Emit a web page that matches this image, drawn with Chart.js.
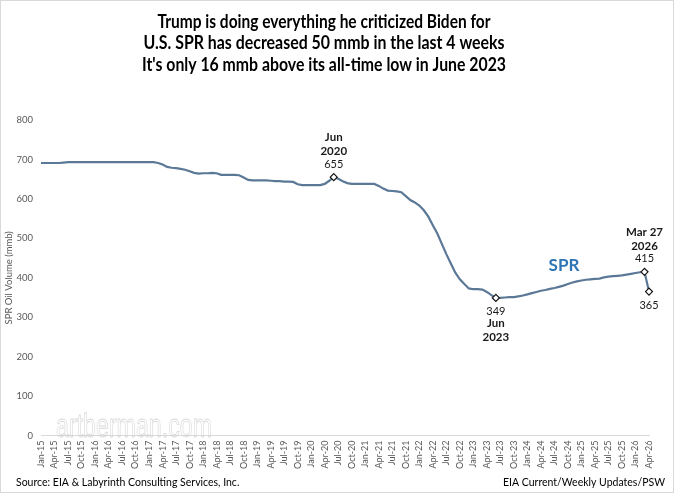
<!DOCTYPE html>
<html>
<head>
<meta charset="utf-8">
<script src="https://cdn.jsdelivr.net/npm/chart.js@4"></script>
<style>
    html, body { margin: 0; padding: 0; background: #fff; }
    #wrap { position: relative; width: 674px; height: 493px; box-sizing: border-box; border: 1px solid #d9d9d9; }
    canvas { position: absolute; left: 0; top: 0; }
</style>
</head>
<body>
<div id="wrap"><canvas id="sprChart" width="674" height="493"></canvas></div>
<script>
// == SPR volume, monthly, mmb == //
const months = ["Jan", "Feb", "Mar", "Apr", "May", "Jun", "Jul", "Aug", "Sep", "Oct", "Nov", "Dec"];
const years = ["15", "16", "17", "18", "19", "20", "21", "22", "23", "24", "25", "26"];

const sprValues = [
    691, 691, 691, 691, 691, 692, 693, 693, 693, 693, 693, 693, // 2015
    693, 693, 693, 693, 693, 693, 693, 693, 693, 693, 693, 693, // 2016
    693, 693, 691, 687, 681, 679, 678, 676, 674, 670, 666, 664, // 2017
    665, 665, 666, 665, 661, 661, 661, 661, 660, 654, 648, 647, // 2018
    647, 647, 647, 646, 645, 645, 644, 644, 643, 637, 635, 635, // 2019
    635, 635, 635, 638, 646, 655, 651, 645, 640, 638, 638, 638, // 2020
    638, 638, 638, 633, 626, 621, 620, 619, 617, 607, 597, 591, // 2021
    583, 571, 555, 533, 512, 486, 460, 436, 413, 396, 384, 373, // 2022
    371, 371, 370, 364, 356, 349, 349, 350, 351, 351, 353, 355, // 2023
    358, 361, 364, 367, 369, 372, 374, 377, 380, 384, 388, 391, // 2024
    393, 395, 396, 397, 398, 401, 403, 404, 405, 406, 408, 410, // 2025
    412, 414, 415, 365                                          // 2026
];

// month categories "Jan-15" ... one per value
const categories = [];
years.forEach(y => months.forEach(m => categories.push(m + "-" + y)));
categories.length = sprValues.length;

// annotated points
const calloutIdx = [65, 101, 134, 135];
const calloutDate = [["Jun", "2020"], ["Jun", "2023"], ["Mar 27", "2026"], []];
const calloutBelow = [false, true, false, true];

const titleLines = [
    "Trump is doing everything he criticized Biden for",
    "U.S. SPR has decreased 50 mmb in the last 4 weeks",
    "It's only 16 mmb above its all-time low in June 2023"
];
const titleWidths = [333, 361, 364];

const FONT = "Lato, 'Open Sans', sans-serif";

// 🔹 marker radius only on callout points
const pointRadius = sprValues.map((v, i) => calloutIdx.includes(i) ? 3.5 : 0);

const extras = {
    id: "extras",
    beforeDatasetsDraw(chart) {
        const c = chart.ctx;
        // watermark
        c.save();
        c.font = "34px 'Liberation Sans', sans-serif";
        const txt = "artberman.com";
        const w = c.measureText(txt).width;
        c.translate(55, 436);
        c.scale(156 / w, 1);
        c.strokeStyle = "rgba(200,200,200,0.7)";
        c.lineWidth = 0.8;
        c.strokeText(txt, 0, 0);
        c.restore();
    },
    afterDatasetsDraw(chart) {
        const c = chart.ctx;
        const meta = chart.getDatasetMeta(0);
        c.save();
        c.textAlign = "center";
        c.textBaseline = "middle";
        calloutIdx.forEach((idx, k) => {
            const p = meta.data[idx];
            const d = calloutDate[k];
            c.fillStyle = "#1a1a1a";
            if (calloutBelow[k]) {
                c.font = "11px " + FONT;
                c.fillText(sprValues[idx], p.x, p.y + 14);
                c.font = "bold 11.5px " + FONT;
                if (d[0]) c.fillText(d[0], p.x, p.y + 25);
                if (d[1]) c.fillText(d[1], p.x, p.y + 39);
            } else {
                c.font = "11px " + FONT;
                c.fillText(sprValues[idx], p.x, p.y - 13);
                c.font = "bold 11.5px " + FONT;
                if (d[1]) c.fillText(d[1], p.x, p.y - 26);
                if (d[0]) c.fillText(d[0], p.x, p.y - 40);
            }
        });
        // series label
        c.font = "bold 17px " + FONT;
        c.fillStyle = "#2e75b6";
        c.fillText("SPR", 563, 265);
        c.restore();
    },
    afterDraw(chart) {
        const c = chart.ctx;
        c.save();
        c.fillStyle = "#000";
        c.textAlign = "center";
        c.textBaseline = "middle";
        c.font = "bold 18px " + FONT;
        titleLines.forEach((t, i) => c.fillText(t, 323, 21 + i * 21.5, titleWidths[i]));
        c.font = "10.5px " + FONT;
        c.textAlign = "left";
        c.fillText("Source: EIA & Labyrinth Consulting Services, Inc.", 15, 482);
        c.textAlign = "right";
        c.fillText("EIA Current/Weekly Updates/PSW", 664, 482);
        c.restore();
    }
};

new Chart(document.getElementById("sprChart").getContext("2d"), {
    type: "line",
    data: {
        labels: categories,
        datasets: [{
            label: "SPR",
            data: sprValues,
            borderColor: "#5b7896",
            borderWidth: 2.2,
            tension: 0,
            pointRadius: pointRadius,
            pointHoverRadius: pointRadius,
            pointStyle: "rectRot",
            pointBackgroundColor: "#fff",
            pointBorderColor: "#111",
            pointBorderWidth: 1.2
        }]
    },
    options: {
        responsive: false,
        animation: false,
        layout: { padding: { top: 119, left: 2, right: 26, bottom: 20 } },
        plugins: {
            legend: { display: false },
            tooltip: { enabled: false },
            title: { display: false }
        },
        scales: {
            x: {
                offset: false,
                grid: { display: false, drawTicks: false },
                border: { display: true, color: "#d9d9d9", width: 1 },
                ticks: {
                    autoSkip: false,
                    maxRotation: 90,
                    minRotation: 90,
                    padding: 5,
                    color: "#595959",
                    font: { family: FONT, size: 9 },
                    callback: (v, i) => i % 3 === 0 ? categories[i] : ""
                }
            },
            y: {
                min: 0,
                max: 800,
                afterFit: s => { s.width = 38; },
                grid: { display: false, drawTicks: false },
                border: { display: false },
                ticks: {
                    stepSize: 100,
                    padding: 8,
                    color: "#595959",
                    font: { family: FONT, size: 9.5 }
                },
                title: {
                    display: true,
                    text: "SPR Oil Volume (mmb)",
                    color: "#595959",
                    font: { family: FONT, size: 9.5 },
                    padding: { top: 0, bottom: 2 }
                }
            }
        }
    },
    plugins: [extras]
});
</script>
</body>
</html>
